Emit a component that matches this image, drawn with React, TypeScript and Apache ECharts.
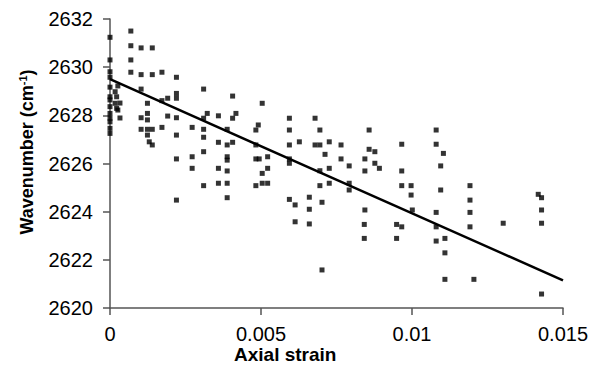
import React, { useEffect, useRef } from "react";
import * as echarts from "echarts";

// Measured points: [strain, wavenumber]
const strainValues: number[] = [
  0, 0, 0, 0, 0, 0, 0, 0, 0, 0, 0, 0, 0,
  0.00026, 0.00017, 0.00022, 0.00017, 0.00022, 0.00033, 0.00033, 0.00026,
  0.00069, 0.00069, 0.00069, 0.00069,
  0.00103, 0.00103, 0.00103, 0.00103, 0.00103,
  0.00124, 0.00124, 0.00124, 0.00124, 0.00124,
  0.0013,
  0.0014, 0.0014, 0.0014, 0.0014,
  0.00172, 0.00172, 0.00172,
  0.00191, 0.00191,
  0.0022, 0.0022, 0.0022, 0.0022, 0.0022, 0.0022, 0.0022,
  0.00272, 0.00272, 0.00272,
  0.0031, 0.0031, 0.0031, 0.0031, 0.0031, 0.0031,
  0.00322,
  0.00359, 0.00359, 0.00359, 0.00359,
  0.00388, 0.00388, 0.00388, 0.00388, 0.00388, 0.00388, 0.00388,
  0.00406, 0.00406, 0.00406,
  0.00417,
  0.00504, 0.00491,
  0.00483, 0.00483, 0.00483, 0.00483,
  0.00494,
  0.00522, 0.00522, 0.00522,
  0.00504, 0.00504,
  0.00594, 0.00594, 0.00594, 0.00594, 0.00594, 0.00594,
  0.00613, 0.00613,
  0.00627,
  0.0066, 0.0066, 0.0066,
  0.00679, 0.00679,
  0.00695, 0.00695, 0.00695, 0.00695,
  0.00702, 0.00702,
  0.00712,
  0.00726, 0.00726, 0.00726,
  0.00765, 0.00765,
  0.00792, 0.00792, 0.00792,
  0.00858, 0.00858,
  0.00877, 0.00877,
  0.00844, 0.00844, 0.00844,
  0.00842, 0.00842,
  0.00892,
  0.00966, 0.00966, 0.00966, 0.00966,
  0.00997, 0.00997,
  0.01001,
  0.00949, 0.00949,
  0.0108, 0.0108, 0.0108, 0.0108, 0.0108,
  0.01104,
  0.01095, 0.01095,
  0.01109, 0.01109, 0.01109,
  0.01192, 0.01192, 0.01192, 0.01192,
  0.01205,
  0.01302,
  0.01418,
  0.01429, 0.01429, 0.01429, 0.01429,
];

const wavenumberValues: number[] = [
  2631.24, 2630.3, 2629.81, 2629.58, 2629.17, 2628.77, 2628.64, 2628.36, 2628.08, 2627.88, 2627.73, 2627.46, 2627.25,
  2629.22, 2628.98, 2628.77, 2628.5, 2628.29, 2628.51, 2627.89, 2628.22,
  2631.5, 2630.89, 2630.3, 2629.79,
  2630.8, 2629.69, 2629.09, 2627.9, 2627.42,
  2628.5, 2628.08, 2627.81, 2627.42, 2627.18,
  2626.9,
  2630.8, 2629.69, 2627.42, 2626.77,
  2629.79, 2628.61, 2627.5,
  2628.71, 2627.97,
  2629.58, 2628.91, 2628.71, 2627.9, 2627.18, 2626.19, 2624.48,
  2627.5, 2626.28, 2625.8,
  2629.09, 2627.88, 2627.42, 2627.09, 2626.49, 2625.08,
  2628.08,
  2627.98, 2626.88, 2625.8, 2625.18,
  2627.42, 2626.77, 2626.28, 2626.14, 2625.69, 2625.18, 2624.58,
  2628.8, 2627.88, 2626.88,
  2628.08,
  2628.5, 2627.6,
  2627.39, 2626.77, 2626.19, 2625.08,
  2626.19,
  2626.28, 2625.8, 2625.18,
  2625.59, 2625.18,
  2627.88, 2627.39, 2626.77, 2626.19, 2626.01, 2624.51,
  2624.28, 2623.58,
  2626.9,
  2624.6, 2624.1, 2623.49,
  2627.88, 2626.77,
  2627.39, 2626.77, 2625.7, 2625.08,
  2624.39, 2621.58,
  2626.38,
  2626.9, 2625.8, 2625.18,
  2626.77, 2626.19,
  2625.9, 2625.18, 2624.9,
  2627.39, 2626.59,
  2626.49, 2626.01,
  2626.19, 2625.69, 2624.07,
  2623.47, 2622.89,
  2625.8,
  2626.8, 2625.69, 2625.08, 2623.37,
  2625.08, 2624.69,
  2624.07,
  2623.47, 2622.89,
  2627.39, 2626.8, 2623.97, 2623.37, 2622.78,
  2626.42,
  2625.9, 2624.9,
  2622.89, 2622.29, 2621.19,
  2625.08, 2624.48, 2623.97, 2623.37,
  2621.19,
  2623.52,
  2624.72,
  2624.58, 2624.07, 2623.52, 2620.58,
];

// Linear fit line endpoints
const fitStrain: number[] = [0, 0.015];
const fitWavenumber: number[] = [2629.5, 2621.15];

const xTickLabels: Record<string, string> = {
  "0": "0",
  "0.005": "0.005",
  "0.01": "0.01",
  "0.015": "0.015",
};

const xTitle = "Axial strain";
const yTitle = "{a|Wavenumber (cm}{sup|-1}{a|)}";

const FONT = "'Liberation Sans', Arial, sans-serif";

export default function App() {
  const ref = useRef<HTMLDivElement>(null);

  useEffect(() => {
    if (!ref.current) return;
    const chart = echarts.init(ref.current, undefined, { renderer: "svg" });
    const scatterData = strainValues.map((s, i) => [s, wavenumberValues[i]]);
    const lineData = fitStrain.map((s, i) => [s, fitWavenumber[i]]);
    chart.setOption({
      animation: false,
      backgroundColor: "#ffffff",
      grid: { left: 110, right: 37, top: 19, bottom: 69, containLabel: false },
      xAxis: {
        type: "value",
        min: 0,
        max: 0.015,
        interval: 0.005,
        axisLine: { show: true, lineStyle: { color: "#555", width: 1.5 } },
        axisTick: { show: true, length: 7, lineStyle: { color: "#555", width: 1.5 } },
        axisLabel: {
          fontFamily: FONT,
          fontSize: 20,
          color: "#000",
          margin: 16,
          formatter: (v: number) => xTickLabels[String(+v.toFixed(4))] ?? String(v),
        },
        splitLine: { show: false },
      },
      yAxis: {
        type: "value",
        min: 2620,
        max: 2632,
        interval: 2,
        axisLine: { show: true, lineStyle: { color: "#555", width: 1.5 } },
        axisTick: { show: true, length: 7, lineStyle: { color: "#555", width: 1.5 } },
        axisLabel: {
          fontFamily: FONT,
          fontSize: 20,
          color: "#000",
          margin: 17,
          formatter: (v: number) => String(v),
        },
        splitLine: { show: false },
      },
      graphic: [
        {
          type: "text",
          left: 234,
          top: 345,
          style: {
            text: xTitle,
            fontFamily: FONT,
            fontSize: 19,
            fontWeight: "bold",
            fill: "#000",
          },
        },
        {
          type: "text",
          x: 27,
          y: 152,
          rotation: Math.PI / 2,
          style: {
            text: yTitle,
            align: "center",
            verticalAlign: "middle",
            fontFamily: FONT,
            fontSize: 18,
            fontWeight: "bold",
            fill: "#000",
            rich: {
              a: { fontFamily: FONT, fontSize: 18, fontWeight: "bold", fill: "#000", lineHeight: 20 },
              sup: { fontFamily: FONT, fontSize: 11, fontWeight: "bold", fill: "#000", lineHeight: 12, verticalAlign: "top" },
            },
          },
        },
      ],
      series: [
        {
          type: "scatter",
          data: scatterData,
          symbol: "rect",
          symbolSize: 5,
          itemStyle: { color: "#000" },
          silent: true,
          z: 3,
        },
        {
          type: "line",
          data: lineData,
          symbol: "none",
          lineStyle: { color: "#000", width: 2.5 },
          silent: true,
          z: 4,
        },
      ],
    });
    return () => chart.dispose();
  }, []);

  return (
    <div
      ref={ref}
      style={{ position: "fixed", left: 0, top: 0, width: 600, height: 377, background: "#fff" }}
    />
  );
}
